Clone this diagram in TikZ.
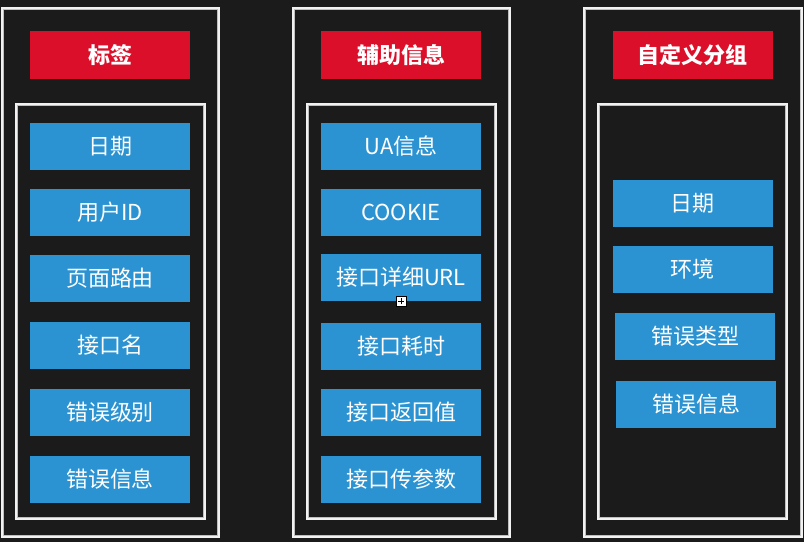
\documentclass[tikz,border=0pt]{standalone}
\usepackage{fontspec}
\setmainfont{Noto Sans CJK SC}
\definecolor{bgc}{HTML}{1B1B1B}
\definecolor{headred}{HTML}{DB0F29}
\definecolor{itemblue}{HTML}{2B93D1}
\begin{document}
\begin{tikzpicture}[x=1pt,y=-1pt,
  frame/.style={draw=white!95!black,line width=1.1pt},
  frame2/.style={draw=white!75!black,line width=0.8pt},
  head/.style={fill=headred,text=white,font=\fontsize{22}{26}\selectfont\bfseries,minimum width=160pt,minimum height=48pt,inner sep=0pt},
  item/.style={fill=itemblue,text=white,font=\fontsize{22}{26}\selectfont,minimum width=160pt,minimum height=47pt,inner sep=0pt}]
\fill[bgc] (0,0) rectangle (804,542);
\useasboundingbox (0,0) rectangle (804,542);
% frames
\foreach \a/\b/\c/\d in {2/8/219/537, 16/104/205/519, 293/8/510/537, 307/104/496/519, 584/8/802/537, 598/104/787/519}{
  \draw[frame] (\a,\b) rectangle (\c,\d);
  \draw[frame2] (\a+1.5,\b+1.5) rectangle (\c-1.2,\d-1.2);
}
% column 1
\node[head] (h1) at (110,55) {标签};
\node[item] (a1) at (110,146) {日期};
\node[item] (a2) at (110,212) {用户ID};
\node[item] (a3) at (110,278.5) {页面路由};
\node[item] (a4) at (110,345.5) {接口名};
\node[item] (a5) at (110,412.5) {错误级别};
\node[item] (a6) at (110,479) {错误信息};
% column 2
\node[head] (h2) at (401,55) {辅助信息};
\node[item] (b1) at (401,146) {UA信息};
\node[item] (b2) at (401,212) {COOKIE};
\node[item] (b3) at (401,277) {接口详细URL};
\node[item] (b4) at (401,346) {接口耗时};
\node[item] (b5) at (401,412.5) {接口返回值};
\node[item] (b6) at (401,479) {接口传参数};
% column 3
\node[head] (h3) at (692.5,55) {自定义分组};
\node[item] (c1) at (692.5,203) {日期};
\node[item] (c2) at (692.5,269.5) {环境};
\node[item] (c3) at (695,336.5) {错误类型};
\node[item] (c4) at (696,404) {错误信息};
% cursor icon
\node[draw=black,fill=white,line width=0.6pt,minimum size=10pt,inner sep=0pt] (cur) at (401.3,301.3) {};
\draw[black,line width=0.8pt] ([xshift=-3pt]cur.center) -- ([xshift=3pt]cur.center);
\draw[black,line width=0.8pt] ([yshift=-3pt]cur.center) -- ([yshift=3pt]cur.center);
\end{tikzpicture}
\end{document}
